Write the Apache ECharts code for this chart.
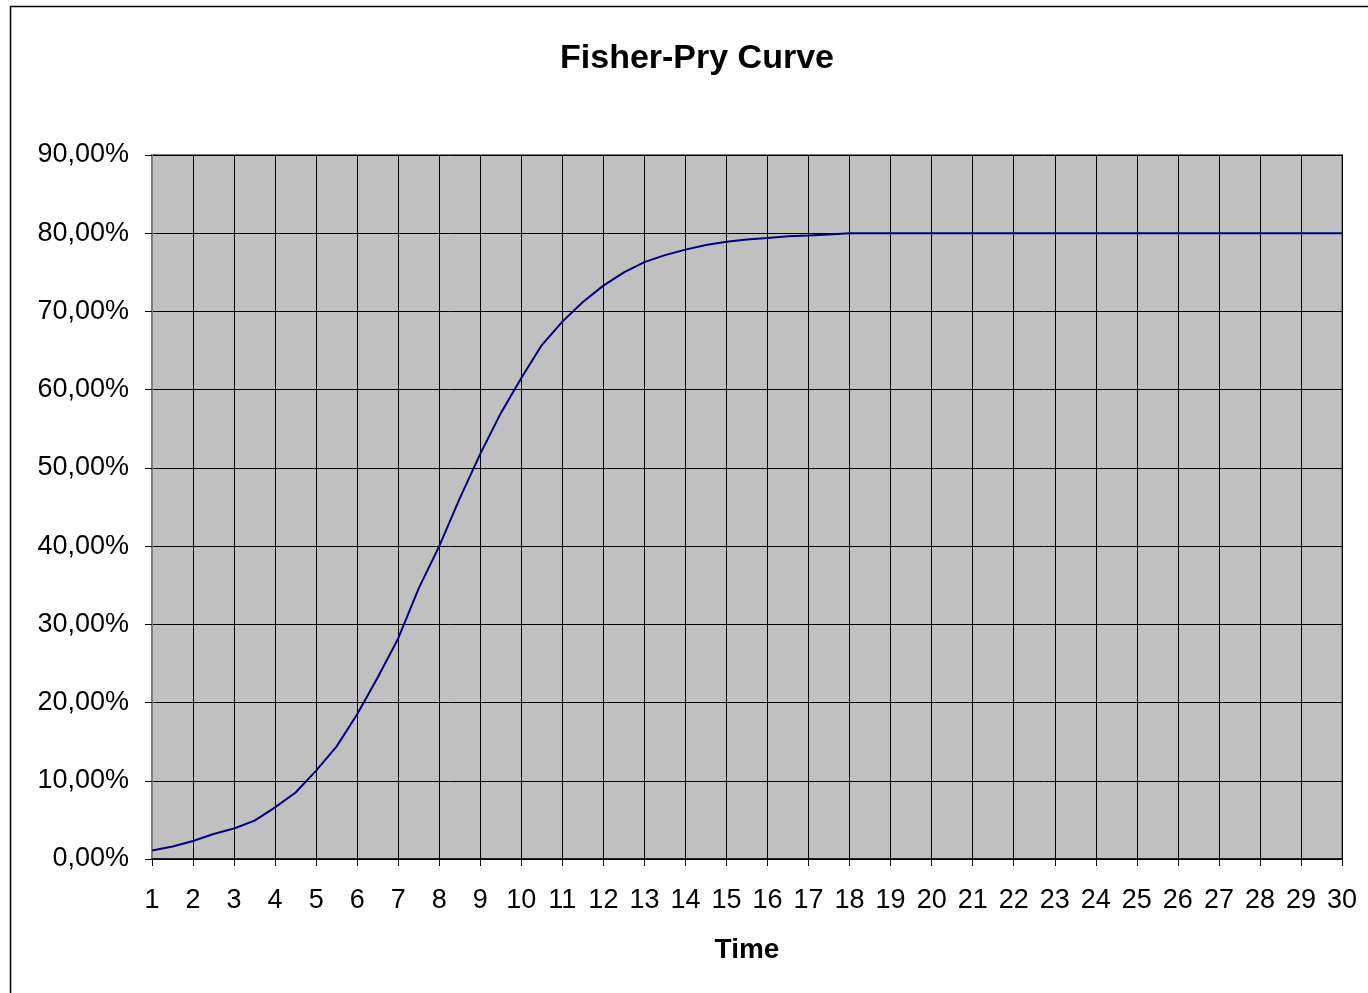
<!DOCTYPE html>
<html>
<head>
<meta charset="utf-8">
<title>Fisher-Pry Curve</title>
<script src="https://cdn.jsdelivr.net/npm/echarts@6/dist/echarts.min.js"></script>
<style>
  html, body { margin: 0; padding: 0; background: #fff; }
  #chart { width: 1368px; height: 993px; }
</style>
</head>
<body>
<div id="chart"></div>
<script>
  // time steps (half units) and share in percent
  var times = [1, 1.5, 2, 2.5, 3, 3.5, 4, 4.5, 5, 5.5, 6, 6.5, 7, 7.5, 8, 8.5, 9, 9.5, 10,
    10.5, 11, 11.5, 12, 12.5, 13, 13.5, 14, 14.5, 15, 15.5, 16, 16.5, 17, 17.5, 18,
    19, 20, 21, 22, 23, 24, 25, 26, 27, 28, 29, 30];
  var share = [1.1, 1.6, 2.3, 3.2, 3.9, 4.9, 6.6, 8.5, 11.3, 14.4, 18.5, 23.2, 28.2, 34.6, 40.0,
    46.1, 51.8, 57.0, 61.5, 65.7, 68.7, 71.2, 73.3, 75.0, 76.3, 77.2, 77.9, 78.5, 78.9, 79.2,
    79.4, 79.6, 79.7, 79.85, 80,
    80, 80, 80, 80, 80, 80, 80, 80, 80, 80, 80, 80];
  var yTicks = [0, 10, 20, 30, 40, 50, 60, 70, 80, 90];

  var points = [];
  for (var i = 0; i < times.length; i++) {
    points.push([times[i], share[i]]);
  }

  var font = 'Liberation Sans, Arial, sans-serif';
  var chart = echarts.init(document.getElementById('chart'));
  chart.setOption({
    animation: false,
    backgroundColor: '#ffffff',
    title: {
      text: 'Fisher-Pry Curve',
      left: 692,
      top: 37,
      textAlign: 'center',
      textStyle: { fontFamily: font, fontSize: 34, fontWeight: 'bold', color: '#000' }
    },
    graphic: [{
      type: 'rect',
      shape: { x: 10.5, y: 6.5, width: 1400, height: 1100 },
      style: { fill: 'none', stroke: '#000', lineWidth: 1.5 },
      silent: true
    }],
    grid: {
      left: 152, right: 26, top: 155, bottom: 134,
      show: true,
      backgroundColor: '#C0C0C0',
      borderColor: '#808080',
      borderWidth: 2
    },
    xAxis: {
      type: 'value',
      min: 1, max: 30, interval: 1,
      name: 'Time',
      nameLocation: 'middle',
      nameGap: 77,
      nameTextStyle: { fontFamily: font, fontSize: 28, fontWeight: 'bold', color: '#000' },
      axisLine: { show: true, onZero: false, lineStyle: { color: '#000', width: 1.5 } },
      axisTick: { show: true, length: 7, lineStyle: { color: '#000' } },
      axisLabel: { fontFamily: font, fontSize: 27, color: '#000', margin: 28 },
      splitLine: { show: true, lineStyle: { color: '#000', width: 1 } }
    },
    yAxis: {
      type: 'value',
      min: yTicks[0], max: yTicks[yTicks.length - 1], interval: 10,
      axisLine: { show: true, lineStyle: { color: '#808080', width: 2 } },
      axisTick: { show: true, length: 7, lineStyle: { color: '#000' } },
      axisLabel: {
        fontFamily: font, fontSize: 27, color: '#000', margin: 23,
        formatter: function (v) { return v.toFixed(2).replace('.', ',') + '%'; }
      },
      splitLine: { show: true, lineStyle: { color: '#000', width: 1 } }
    },
    series: [{
      type: 'line',
      data: points,
      symbol: 'none',
      lineStyle: { color: '#000080', width: 2 },
      z: 5
    }]
  });
</script>
</body>
</html>
